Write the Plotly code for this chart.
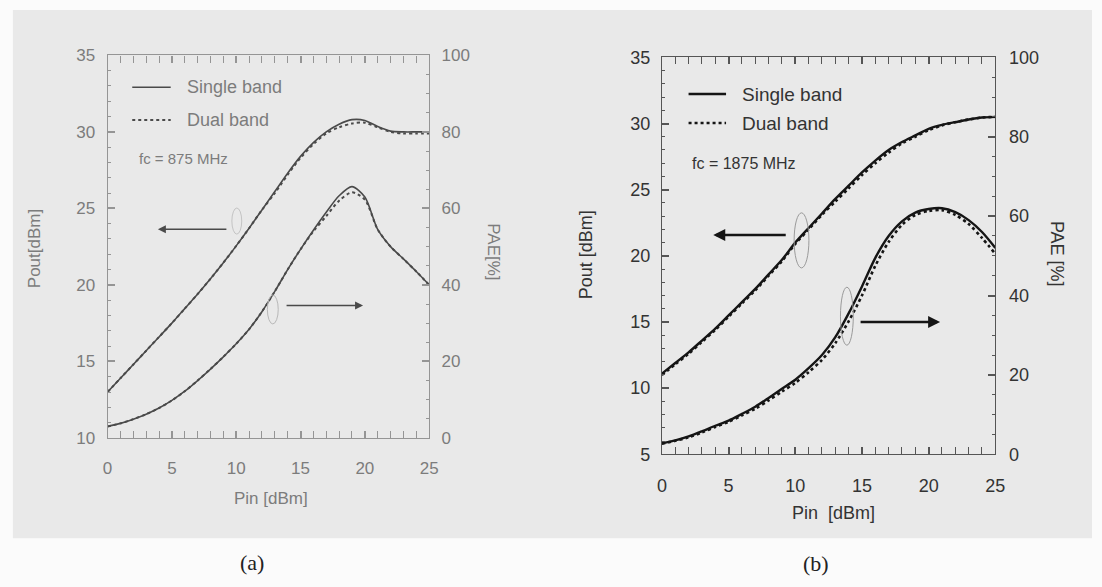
import plotly.graph_objects as go

# ---------------- data ----------------
pin = [0, 1, 2, 3, 4, 5, 6, 7, 8, 9, 10, 11, 12, 13, 14, 15, 16, 17, 18, 19, 20, 21, 22, 23, 24, 25]

# (a) fc = 875 MHz
pout_a_single = [13.0, 13.9, 14.8, 15.7, 16.6, 17.5, 18.45, 19.4, 20.4, 21.45, 22.55, 23.7, 24.9, 26.1, 27.3,
                 28.4, 29.3, 30.0, 30.5, 30.8, 30.75, 30.35, 30.05, 30.0, 30.0, 30.0]
pout_a_dual = [13.0, 13.9, 14.8, 15.7, 16.6, 17.5, 18.45, 19.4, 20.4, 21.45, 22.55, 23.7, 24.9, 26.0, 27.2,
               28.3, 29.2, 29.9, 30.3, 30.55, 30.6, 30.3, 30.0, 29.9, 29.9, 29.9]
pae_a_single = [3.0, 3.8, 4.9, 6.2, 7.8, 9.8, 12.2, 15.0, 18.0, 21.2, 24.6, 28.4, 33.0, 38.3, 44.0,
                49.3, 54.3, 59.0, 63.3, 65.7, 63.0, 54.5, 50.0, 46.8, 43.5, 40.0]
pae_a_dual = [3.0, 3.8, 4.9, 6.2, 7.8, 9.8, 12.2, 15.0, 18.0, 21.2, 24.6, 28.4, 33.0, 38.3, 44.0,
              49.3, 54.0, 58.0, 62.0, 64.2, 62.3, 54.5, 50.0, 46.8, 43.5, 40.0]

# (b) fc = 1875 MHz
pout_b_single = [11.1, 11.9, 12.7, 13.6, 14.5, 15.5, 16.5, 17.5, 18.6, 19.7, 21.0, 22.1, 23.2, 24.3, 25.3,
                 26.3, 27.2, 28.0, 28.6, 29.1, 29.6, 29.9, 30.1, 30.3, 30.45, 30.5]
pout_b_dual = [11.0, 11.8, 12.6, 13.5, 14.4, 15.4, 16.4, 17.4, 18.5, 19.6, 20.9, 22.0, 23.1, 24.1, 25.1,
               26.1, 27.0, 27.8, 28.5, 29.0, 29.5, 29.85, 30.1, 30.3, 30.45, 30.5]
pae_b_single = [2.8, 3.5, 4.5, 5.8, 7.2, 8.5, 10.2, 12.0, 14.2, 16.5, 18.8, 21.7, 25.0, 29.5, 35.5,
                42.3, 49.5, 55.0, 58.7, 60.9, 61.8, 62.0, 61.0, 59.0, 56.0, 52.0]
pae_b_dual = [2.7, 3.4, 4.3, 5.5, 6.9, 8.2, 9.8, 11.5, 13.6, 15.8, 18.0, 20.7, 23.8, 28.0, 33.5,
              40.0, 47.5, 53.5, 57.8, 60.3, 61.3, 61.5, 60.3, 58.0, 54.5, 50.5]

x_range = [0, 25]
pout_range_a = [10, 35]
pout_range_b = [5, 35]
pae_range = [0, 100]

# ---------------- layout helpers ----------------
W, H = 1102, 587


def fx(x):
    return x / W


def fy(y):
    return 1 - y / H


CA = "#4a4a4a"   # curves, panel a
TA = "#7c7c7c"   # text, panel a
LA = "#959595"   # axis lines, panel a
CB = "#151515"
TB = "#333333"
LB = "#555555"
FONT = "Liberation Sans, Arial, sans-serif"
CLEAR = "rgba(0,0,0,0)"

fig = go.Figure()


def line_trace(x, y, xa, ya, color, width, dash="solid"):
    fig.add_trace(go.Scatter(x=x, y=y, xaxis=xa, yaxis=ya, mode="lines", hoverinfo="skip",
                             line=dict(color=color, width=width, dash=dash, shape="spline", smoothing=0.8),
                             showlegend=False))


# panel (a)
line_trace(pin, pout_a_single, "x", "y", CA, 1.6)
line_trace(pin, pout_a_dual, "x", "y", CA, 2, "dot")
line_trace(pin, pae_a_single, "x", "y2", CA, 1.6)
line_trace(pin, pae_a_dual, "x", "y2", CA, 2, "dot")
# panel (b)
line_trace(pin, pout_b_single, "x2", "y3", CB, 2.4)
line_trace(pin, pout_b_dual, "x2", "y3", CB, 2.6, "dot")
line_trace(pin, pae_b_single, "x2", "y4", CB, 2.4)
line_trace(pin, pae_b_dual, "x2", "y4", CB, 2.6, "dot")

# empty traces that register the label-only axes
for xa, ya in [("x3", "y5"), ("x3", "y6"), ("x4", "y7"), ("x4", "y8")]:
    fig.add_trace(go.Scatter(x=[], y=[], xaxis=xa, yaxis=ya, mode="lines", hoverinfo="skip",
                             showlegend=False))


def tick_axis(domain, anchor, rng, step, lc, side, overlay=None, mdt=1, mirror=False):
    """Axis that draws the frame line and the inward tick marks (no labels)."""
    d = dict(domain=domain, anchor=anchor, range=rng, tickmode="linear", tick0=rng[0], dtick=step,
             side=side, showline=True, linecolor=lc, linewidth=1.3, ticks="inside", ticklen=7,
             tickwidth=1.5, tickcolor=lc, showgrid=False, zeroline=False, showticklabels=False,
             mirror=mirror,
             minor=dict(ticks="inside", ticklen=3, tickwidth=1, dtick=mdt, tickcolor=lc))
    if overlay:
        d["overlaying"] = overlay
    return d


def label_axis(overlay, anchor, rng, step, tc, size, side, pad):
    """Axis that only carries the tick labels, pushed away from the frame."""
    return dict(overlaying=overlay, anchor=anchor, range=rng, tickmode="linear", tick0=rng[0], dtick=step,
                side=side, showline=False, ticks="outside", ticklen=pad, tickcolor=CLEAR,
                showgrid=False, zeroline=False,
                tickfont=dict(family=FONT, size=size, color=tc))


dom_xa = [fx(104), fx(430)]
dom_ya = [fy(443), fy(47)]
dom_xb = [fx(666), fx(1004)]
dom_yb = [fy(460), fy(49)]

fig.update_layout(
    width=W, height=H, margin=dict(l=0, r=0, t=0, b=0),
    paper_bgcolor="#fbfbfb", plot_bgcolor=CLEAR,
    # panel (a)
    xaxis=tick_axis(dom_xa, "y", x_range, 5, LA, "bottom", mirror="allticks"),
    yaxis=tick_axis(dom_ya, "x", pout_range_a, 5, LA, "left"),
    yaxis2=tick_axis(dom_ya, "x", pae_range, 20, LA, "right", overlay="y", mdt=5),
    xaxis3=label_axis("x", "y", x_range, 5, TA, 17, "bottom", 15),
    yaxis5=label_axis("y", "x", pout_range_a, 5, TA, 17, "left", 8),
    yaxis6=label_axis("y", "x", pae_range, 20, TA, 17, "right", 8),
    # panel (b)
    xaxis2=tick_axis(dom_xb, "y3", x_range, 5, LB, "bottom", mirror="allticks"),
    yaxis3=tick_axis(dom_yb, "x2", pout_range_b, 5, LB, "left"),
    yaxis4=tick_axis(dom_yb, "x2", pae_range, 20, LB, "right", overlay="y3", mdt=5),
    xaxis4=label_axis("x2", "y3", x_range, 5, TB, 18, "bottom", 15),
    yaxis7=label_axis("y3", "x2", pout_range_b, 5, TB, 18, "left", 7),
    yaxis8=label_axis("y3", "x2", pae_range, 20, TB, 18, "right", 9),
)

shapes = []
# scanned grey background
shapes.append(dict(type="rect", xref="paper", yref="paper", x0=fx(8), x1=1, y0=fy(547), y1=1,
                   fillcolor="#e9e9e9", line=dict(width=0), layer="below"))
# legend samples
shapes.append(dict(type="line", xref="paper", yref="paper", x0=fx(129), x1=fx(168), y0=fy(80), y1=fy(80),
                   line=dict(color=CA, width=1.6)))
shapes.append(dict(type="line", xref="paper", yref="paper", x0=fx(129), x1=fx(168), y0=fy(114), y1=fy(114),
                   line=dict(color=CA, width=2, dash="dot")))
shapes.append(dict(type="line", xref="paper", yref="paper", x0=fx(693), x1=fx(731), y0=fy(87), y1=fy(87),
                   line=dict(color=CB, width=2.4)))
shapes.append(dict(type="line", xref="paper", yref="paper", x0=fx(693), x1=fx(731), y0=fy(117), y1=fy(117),
                   line=dict(color=CB, width=2.6, dash="dot")))
# ellipses marking curve groups
for (x0, x1, y0, y1, c) in [(230, 240, 205, 232, "#c4c4c4"), (266, 277, 295, 325, "#b8b8b8"),
                            (800, 815, 210, 267, "#9a9a9a"), (847, 860, 287, 347, "#9a9a9a")]:
    shapes.append(dict(type="circle", xref="paper", yref="paper", x0=fx(x0), x1=fx(x1),
                       y0=fy(y1), y1=fy(y0), line=dict(color=c, width=1)))
fig.update_layout(shapes=shapes)

ann = []


def text(x, y, s, size, color, anchor="left", angle=0, family=FONT):
    ann.append(dict(x=fx(x), y=fy(y), xref="paper", yref="paper", text=s, showarrow=False,
                    xanchor=anchor, yanchor="middle", textangle=angle,
                    font=dict(family=family, size=size, color=color)))


# panel (a) texts
text(182, 80, "Single band", 18, TA)
text(182, 114, "Dual band", 18, TA)
text(134, 154, "fc = 875 MHz", 15, TA)
text(30, 247, "Pout[dBm]", 17, TA, "center", -90)
text(495, 250, "PAE[%]", 17, TA, "center", 90)
text(270, 506, "Pin [dBm]", 17, TA, "center")
# panel (b) texts
text(745, 87, "Single band", 19, TB)
text(745, 117, "Dual band", 19, TB)
text(694, 159, "fc = 1875 MHz", 16, TB)
text(589, 253, "Pout [dBm]", 18, TB, "center", -90)
text(1066, 253, "PAE [%]", 18, TB, "center", 90)
text(840, 521, "Pin  [dBm]", 18, TB, "center")
# captions
text(250, 572, "(a)", 22, "#222222", "center", family="Liberation Serif, Times New Roman, serif")
text(822, 573, "(b)", 22, "#222222", "center", family="Liberation Serif, Times New Roman, serif")


def arrow(hx, hy, tx, ty, color, width):
    ann.append(dict(x=fx(hx), y=fy(hy), xref="paper", yref="paper", ax=tx - hx, ay=ty - hy,
                    axref="pixel", ayref="pixel", text="", showarrow=True, arrowhead=2,
                    arrowsize=1, arrowwidth=width, arrowcolor=color))


arrow(155, 227, 225, 227, CA, 1.6)
arrow(363, 306, 285, 306, CA, 1.6)
arrow(718, 233, 792, 233, CB, 2.4)
arrow(948, 323, 867, 323, CB, 2.4)

fig.update_layout(annotations=ann)

fig.write_html("out.html")
